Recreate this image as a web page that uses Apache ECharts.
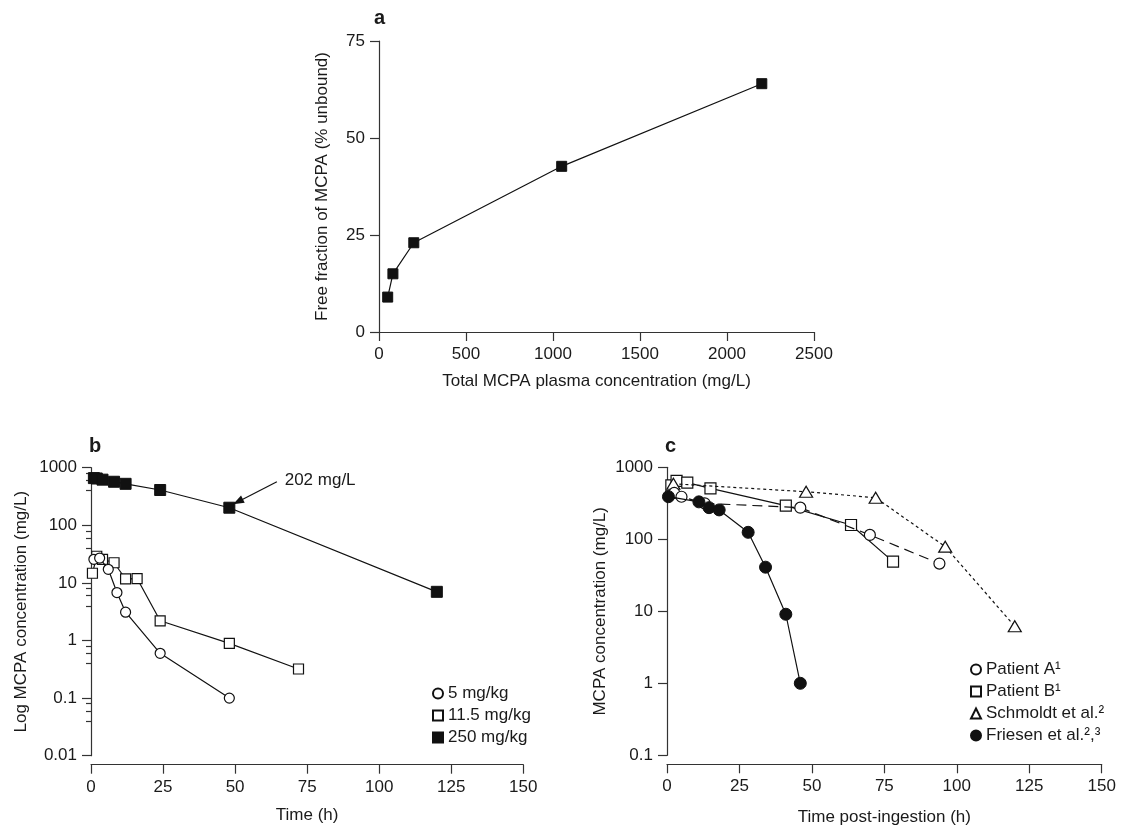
<!DOCTYPE html>
<html>
<head>
<meta charset="utf-8">
<script src="https://cdn.jsdelivr.net/npm/echarts@6/dist/echarts.min.js"></script>
<style>html,body{margin:0;padding:0;background:#fff;}#c{width:1125px;height:828px;}</style>
</head>
<body>
<div id="c"></div>
<script>
// Panel a
const aConc = [50, 80, 200, 1050, 2200];
const aFree = [9, 15, 23, 42.7, 64];
// Panel b
const b5T = [1, 3, 6, 9, 12, 24, 48];
const b5V = [25.7, 27, 17.2, 6.8, 3.1, 0.6, 0.1];
const b11T = [0.5, 2, 4, 8, 12, 16, 24, 48, 72];
const b11V = [14.7, 29, 25.7, 22.4, 11.7, 11.9, 2.2, 0.89, 0.32];
const b250T = [1, 2, 4, 8, 12, 24, 48, 120];
const b250V = [660, 650, 620, 570, 525, 410, 202, 7];
const bNames = ['5 mg/kg', '11.5 mg/kg', '250 mg/kg'];
// Panel b minor tick values on the log axis
const bMinorTicks = [0.04, 0.06, 0.08, 0.4, 0.6, 0.8, 4, 6, 8, 40, 60, 80, 400, 600, 800];
// Panel c
const cAT = [2.5, 5, 13, 46, 70, 94];
const cAV = [440, 390, 316, 275, 115, 46];
const cBT = [1.5, 3.3, 7, 15, 41, 63.5, 78];
const cBV = [560, 646, 611, 510, 293, 158, 49];
const cST = [2.2, 48, 72, 96, 120];
const cSV = [590, 458, 378, 79, 6.2];
const cFT = [0.5, 11, 14.5, 18, 28, 34, 41, 46];
const cFV = [391, 331, 275, 256, 125, 41, 9.1, 1.0];
const cNames = ['Patient A\u00B9', 'Patient B\u00B9', 'Schmoldt et al.\u00B2', 'Friesen et al.\u00B2,\u00B3'];
// annotation
const annoText = '202 mg/L';
const annoFrom = [64.5, 571];
const annoTo = [51, 257];
const annoLabelAt = [79.5, 612];

const zip = (xs, ys) => xs.map((x, i) => [x, ys[i]]);
const FONT = '"Liberation Sans", Arial, Helvetica, sans-serif';
const TXT = '#1a1a1a';
const AX = '#333';
const fmt = v => String(+Number(v).toPrecision(6));

function axisCommon(extra) {
  return Object.assign({
    nameLocation: 'middle',
    nameTextStyle: { fontSize: 17, color: TXT, fontFamily: FONT },
    axisLine: { show: true, onZero: false, lineStyle: { color: AX, width: 1.2 } },
    axisTick: { show: true, length: 9, lineStyle: { color: AX, width: 1.2 } },
    axisLabel: { fontSize: 17, color: TXT, fontFamily: FONT, margin: 14, formatter: fmt },
    splitLine: { show: false }
  }, extra);
}

const openStyle = { color: '#fff', borderColor: '#111', borderWidth: 1.2 };
const fillStyle = { color: '#111', borderColor: '#111', borderWidth: 1 };
const lineBase = { color: '#111', width: 1.2 };

const option = {
  animation: false,
  backgroundColor: '#fff',
  textStyle: { fontFamily: FONT },
  title: [
    { text: 'a', left: 369, top: 3, textStyle: { fontSize: 20, fontWeight: 'bold', color: TXT, fontFamily: FONT } },
    { text: 'b', left: 84, top: 431, textStyle: { fontSize: 20, fontWeight: 'bold', color: TXT, fontFamily: FONT } },
    { text: 'c', left: 660, top: 431, textStyle: { fontSize: 20, fontWeight: 'bold', color: TXT, fontFamily: FONT } }
  ],
  grid: [
    { left: 379, top: 41, width: 435, height: 291 },
    { left: 91, top: 467.7, width: 432.3, height: 288 },
    { left: 667, top: 467.3, width: 434.7, height: 288 }
  ],
  legend: [
    {
      orient: 'vertical', left: 427, top: 680, itemWidth: 10, itemHeight: 10, itemGap: 5,
      textStyle: { fontSize: 17, color: TXT, fontFamily: FONT },
      data: [{ name: bNames[0], icon: 'circle' }, { name: bNames[1], icon: 'rect' }, { name: bNames[2], icon: 'rect' }]
    },
    {
      orient: 'vertical', left: 965, top: 656, itemWidth: 10, itemHeight: 10, itemGap: 5,
      textStyle: { fontSize: 17, color: TXT, fontFamily: FONT },
      data: [{ name: cNames[0], icon: 'circle' }, { name: cNames[1], icon: 'rect' }, { name: cNames[2], icon: 'triangle' }, { name: cNames[3], icon: 'circle' }]
    }
  ],
  xAxis: [
    axisCommon({ gridIndex: 0, type: 'value', min: 0, max: 2500, interval: 500, name: 'Total MCPA plasma concentration (mg/L)', nameGap: 41 }),
    axisCommon({ gridIndex: 1, type: 'value', min: 0, max: 150, interval: 25, offset: 9, name: 'Time (h)', nameGap: 42 }),
    axisCommon({ gridIndex: 2, type: 'value', min: 0, max: 150, interval: 25, offset: 9, name: 'Time post-ingestion (h)', nameGap: 45 })
  ],
  yAxis: [
    axisCommon({ gridIndex: 0, type: 'value', min: 0, max: 75, interval: 25, name: 'Free fraction of MCPA (% unbound)', nameGap: 48 }),
    axisCommon({ gridIndex: 1, type: 'log', logBase: 10, min: 0.01, max: 1000, name: 'Log MCPA concentration (mg/L)', nameGap: 61 }),
    axisCommon({ gridIndex: 2, type: 'log', logBase: 10, min: 0.1, max: 1000, name: 'MCPA concentration (mg/L)', nameGap: 58 }),
    { gridIndex: 1, type: 'log', logBase: 10, min: 0.01, max: 1000, position: 'left', silent: true,
      axisLine: { show: false, onZero: false }, axisLabel: { show: false }, splitLine: { show: false },
      axisTick: { show: true, length: 5, customValues: bMinorTicks, lineStyle: { color: AX, width: 1.2 } } }
  ],
  series: [
    { type: 'line', xAxisIndex: 0, yAxisIndex: 0, data: zip(aConc, aFree), symbol: 'rect', symbolSize: 10,
      itemStyle: fillStyle, lineStyle: lineBase },
    { name: bNames[1], type: 'line', xAxisIndex: 1, yAxisIndex: 1, data: zip(b11T, b11V), symbol: 'rect', symbolSize: 10,
      itemStyle: openStyle, lineStyle: lineBase, z: 2 },
    { name: bNames[0], type: 'line', xAxisIndex: 1, yAxisIndex: 1, data: zip(b5T, b5V), symbol: 'circle', symbolSize: 10,
      itemStyle: openStyle, lineStyle: lineBase, z: 3 },
    { name: bNames[2], type: 'line', xAxisIndex: 1, yAxisIndex: 1, data: zip(b250T, b250V), symbol: 'rect', symbolSize: 11,
      itemStyle: fillStyle, lineStyle: lineBase, z: 4,
      markLine: { silent: true, symbol: ['none', 'triangle'], symbolSize: [8, 11], lineStyle: { color: '#111', width: 1.2, type: 'solid' },
        label: { show: false },
        data: [[{ coord: annoFrom }, { coord: annoTo }]] },
      markPoint: { symbol: 'rect', symbolSize: 1, itemStyle: { color: 'rgba(0,0,0,0)' },
        label: { show: true, position: 'inside', formatter: annoText, fontSize: 17, color: TXT, fontFamily: FONT },
        data: [{ coord: annoLabelAt }] } },
    { name: cNames[1], type: 'line', xAxisIndex: 2, yAxisIndex: 2, data: zip(cBT, cBV), symbol: 'rect', symbolSize: 11,
      itemStyle: openStyle, lineStyle: lineBase, z: 2 },
    { name: cNames[2], type: 'line', xAxisIndex: 2, yAxisIndex: 2, data: zip(cST, cSV), symbol: 'triangle', symbolSize: [13, 11],
      itemStyle: openStyle, lineStyle: Object.assign({}, lineBase, { type: [3, 3] }), z: 3 },
    { name: cNames[0], type: 'line', xAxisIndex: 2, yAxisIndex: 2, data: zip(cAT, cAV), symbol: 'circle', symbolSize: 11,
      itemStyle: openStyle, lineStyle: Object.assign({}, lineBase, { type: [10, 6] }), z: 4 },
    { name: cNames[3], type: 'line', xAxisIndex: 2, yAxisIndex: 2, data: zip(cFT, cFV), symbol: 'circle', symbolSize: 12,
      itemStyle: fillStyle, lineStyle: lineBase, z: 5 }
  ]
};
const chart = echarts.init(document.getElementById('c'), null, { renderer: 'canvas' });
chart.setOption(option);
</script>
</body>
</html>
